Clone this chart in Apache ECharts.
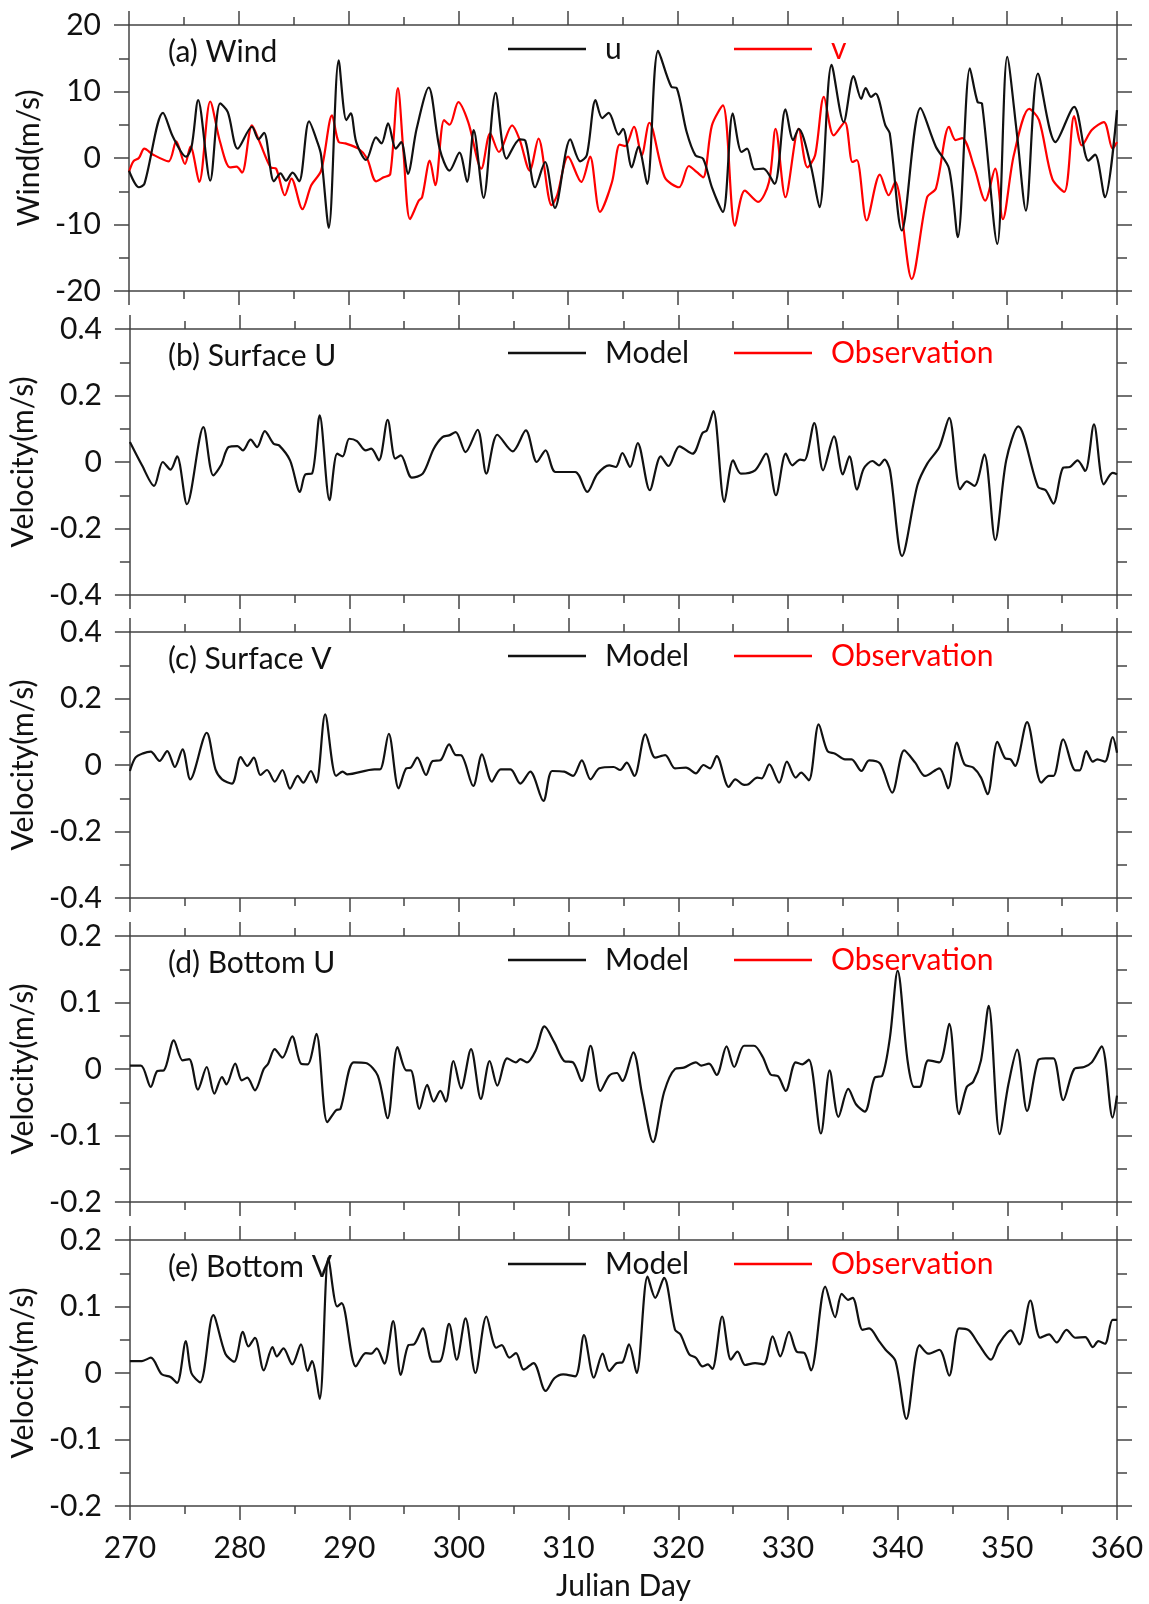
<!DOCTYPE html>
<html>
<head>
<meta charset="utf-8">
<script src="https://cdn.jsdelivr.net/npm/echarts@6/dist/echarts.min.js"></script>
<style>
  html, body { margin: 0; padding: 0; background: #fff; }
  #chart { width: 1149px; height: 1604px; }
</style>
</head>
<body>
<div id="chart"></div>
<script>
// ---- data: [julian day, value] ----
const windU = [[270,-1.9],[270.9,-4.4],[271.4,-3.9],[273.1,6.8],[274.0,3.2],[275.2,0.2],[275.7,1.7],[276.3,8.7],[277.4,-3.4],[278.3,8.2],[279.0,6.9],[279.9,1.4],[281.2,4.7],[281.8,2.8],[282.3,3.8],[283.2,-3.5],[283.8,-2.3],[284.3,-3.4],[284.9,-2.2],[285.5,-3.5],[286.4,5.5],[287.2,2.2],[287.5,0.4],[288.2,-10.5],[289.1,14.7],[289.8,5.7],[290.2,6.7],[290.7,2.4],[291.6,-0.3],[292.5,3.1],[293.0,2.2],[293.6,5.2],[294.3,1.4],[294.8,2.4],[295.4,-2.4],[296.2,4.4],[297.3,10.6],[298.3,1.4],[299.2,-1.9],[300.1,0.8],[300.8,-3.6],[301.4,4.2],[302.3,-6.0],[303.4,9.8],[304.4,-0.1],[305.6,2.8],[306.1,2.6],[307.0,-4.4],[307.9,-0.6],[308.8,-7.5],[310.2,2.8],[311.1,-0.5],[311.7,0.4],[312.5,8.7],[313.1,6.0],[313.7,6.8],[314.6,3.5],[315.0,4.4],[315.8,-1.4],[316.4,1.7],[317.2,-3.9],[318.2,16.1],[319.4,10.7],[319.9,10.5],[320.8,3.9],[321.6,0.4],[322.3,-0.1],[323.1,-4.4],[324.1,-8.1],[325.0,6.7],[325.8,0.9],[326.3,1.4],[327.0,-1.7],[327.8,-1.6],[328.8,-3.9],[329.8,7.3],[330.5,2.7],[331.0,4.4],[332.1,-1.1],[332.9,-7.4],[334.0,14.0],[335.1,5.4],[336.0,12.3],[336.7,8.9],[337.1,10.5],[337.6,9.2],[338.0,9.7],[338.9,4.9],[339.3,3.7],[340.4,-10.9],[342.1,7.5],[343.5,1.7],[344.7,-1.6],[345.5,-11.9],[346.6,13.5],[347.3,8.4],[347.7,8.2],[349.1,-12.9],[350.0,15.2],[350.9,3.4],[351.7,-7.9],[352.8,12.7],[354.4,2.4],[356.1,7.7],[357.4,-0.4],[358.0,0.5],[358.9,-5.9],[360.0,7.2]];

const windV = [[270,-2.1],[270.4,-0.5],[270.9,0],[271.4,1.4],[272.2,0.5],[273.6,-0.5],[274.3,2.5],[275.1,-0.9],[275.6,1.7],[276.4,-3.6],[277.4,8.5],[278.3,2.4],[279.2,-1.4],[279.8,-1.3],[280.3,-2.2],[281.2,4.9],[281.9,2.4],[282.9,-1.4],[283.4,-1.6],[284.2,-5.6],[284.8,-3.1],[285.8,-7.7],[286.6,-4.1],[287.5,-1.9],[288.5,6.4],[289.1,2.4],[289.7,2.2],[290.9,1.4],[291.7,-0.1],[292.5,-3.5],[293.2,-2.9],[293.8,-2.4],[294.5,10.5],[295.0,0.9],[295.6,-9.2],[296.4,-6.4],[296.7,-5.9],[297.4,-0.4],[297.9,-4.1],[298.7,5.7],[299.2,5.0],[300.0,8.4],[300.9,5.4],[302.1,-1.6],[302.9,3.7],[303.7,0.9],[304.9,4.9],[305.6,2.7],[306.5,-1.9],[307.3,2.9],[308.5,-7.1],[309.0,-5.6],[310.0,0.2],[311.2,-3.6],[312.0,0.2],[312.9,-8.1],[314.0,-3.6],[314.7,2.0],[315.2,1.8],[316.0,4.7],[316.7,0.4],[317.4,5.3],[318.8,-2.9],[320.1,-4.4],[321.0,-1.2],[321.7,-2.1],[322.3,-2.9],[323.1,4.9],[324.1,7.9],[325.2,-10.2],[326.1,-4.9],[327.3,-6.6],[328.3,-3.6],[328.9,4.4],[329.8,-5.9],[331.0,4.4],[331.8,-1.4],[332.5,0.4],[333.3,9.2],[334.2,3.4],[335.2,5.4],[335.9,-0.6],[336.3,-0.3],[337.2,-9.4],[338.4,-2.5],[339.2,-5.6],[339.8,-3.6],[341.3,-18.2],[342.7,-5.9],[343.5,-4.6],[344.7,4.7],[345.3,2.7],[345.9,3.0],[347.0,-1.4],[348.0,-6.4],[348.9,-1.6],[349.6,-9.2],[350.6,0.4],[352.0,7.4],[352.9,5.7],[354.1,-3.1],[355.2,-5.1],[356.1,6.3],[356.8,1.9],[357.7,4.2],[358.8,5.4],[359.6,1.4],[360.0,2.4]];

const surfaceU = [[270,0.060],[271.1,-0.010],[272.2,-0.072],[273.0,0.0],[273.7,-0.023],[274.3,0.017],[275.2,-0.127],[276.7,0.105],[277.6,-0.040],[278.3,-0.010],[279.0,0.045],[279.8,0.048],[280.3,0.035],[281.0,0.067],[281.6,0.045],[282.3,0.093],[283.1,0.055],[283.6,0.050],[284.6,0.005],[285.5,-0.090],[286.0,-0.037],[286.6,-0.035],[287.3,0.140],[288.2,-0.115],[288.9,0.025],[289.4,0.017],[290.0,0.070],[290.7,0.063],[291.5,0.035],[292.0,0.040],[292.7,0.005],[293.5,0.127],[294.2,0.010],[294.7,0.020],[295.7,-0.047],[296.7,-0.035],[297.7,0.040],[298.5,0.075],[299.1,0.080],[299.7,0.090],[300.6,0.030],[301.7,0.097],[302.5,-0.035],[303.5,0.082],[304.9,0.032],[306.1,0.095],[307.1,0.0],[307.9,0.035],[308.8,-0.030],[310.6,-0.030],[311.7,-0.090],[312.6,-0.037],[313.7,-0.010],[314.3,-0.015],[314.9,0.027],[315.6,-0.015],[316.3,0.057],[317.4,-0.085],[318.4,0.017],[319.1,-0.012],[320.1,0.047],[321.3,0.025],[322.2,0.087],[322.6,0.095],[323.2,0.153],[324.2,-0.120],[325.0,0.005],[325.7,-0.035],[327.0,-0.025],[328.0,0.025],[328.9,-0.100],[329.8,0.025],[330.4,-0.010],[331.1,0.007],[331.5,0.005],[332.4,0.117],[333.2,-0.025],[334.2,0.077],[335.0,-0.037],[335.6,0.017],[336.3,-0.083],[336.9,-0.020],[337.7,0.003],[338.3,-0.010],[338.8,0.007],[339.3,-0.025],[340.4,-0.283],[341.8,-0.070],[342.7,-0.005],[343.8,0.045],[344.7,0.133],[345.7,-0.082],[346.3,-0.058],[347.0,-0.072],[347.9,0.023],[348.9,-0.235],[349.9,0.005],[351.0,0.107],[352.8,-0.075],[353.5,-0.085],[354.2,-0.125],[355.1,-0.017],[355.7,-0.015],[356.4,0.005],[357.1,-0.027],[357.9,0.113],[358.8,-0.067],[359.6,-0.033],[360,-0.037]];

const surfaceV = [[270,-0.018],[270.5,0.022],[271.2,0.035],[271.9,0.040],[272.7,0.012],[273.4,0.042],[274.1,-0.006],[274.8,0.047],[275.5,-0.043],[277.0,0.097],[277.8,-0.013],[278.4,-0.043],[279.3,-0.056],[280.1,0.024],[280.7,-0.003],[281.3,0.022],[281.9,-0.030],[282.5,-0.015],[283.2,-0.050],[283.9,-0.015],[284.6,-0.071],[285.3,-0.033],[285.8,-0.053],[286.5,-0.018],[287.0,-0.053],[287.8,0.152],[288.8,-0.033],[289.4,-0.020],[289.8,-0.028],[292.3,-0.013],[292.8,-0.013],[293.6,0.094],[294.5,-0.070],[295.2,-0.010],[295.6,-0.008],[296.2,0.022],[297.0,-0.030],[297.6,0.012],[298.3,0.014],[299.1,0.062],[299.7,0.030],[300.2,0.029],[301.3,-0.063],[302.1,0.032],[303.0,-0.050],[303.8,-0.013],[304.7,-0.013],[305.6,-0.056],[306.5,-0.020],[307.7,-0.108],[308.5,-0.018],[309.6,-0.020],[310.4,-0.033],[311.2,0.014],[312.0,-0.043],[312.8,-0.010],[314.1,-0.006],[314.7,-0.015],[315.3,0.007],[316.0,-0.033],[317.0,0.092],[317.9,0.022],[318.8,0.030],[319.7,-0.010],[320.7,-0.008],[321.6,-0.025],[322.3,0.0],[322.9,-0.010],[323.5,0.027],[324.6,-0.066],[325.2,-0.043],[326.0,-0.060],[326.4,-0.058],[327.2,-0.038],[327.6,-0.040],[328.3,0.002],[329.2,-0.053],[329.9,0.010],[330.7,-0.038],[331.2,-0.023],[331.9,-0.046],[332.8,0.122],[333.6,0.042],[334.3,0.034],[335.2,0.017],[335.8,0.017],[336.7,-0.018],[337.4,0.014],[338.4,0.004],[339.5,-0.083],[340.6,0.044],[341.6,0.007],[342.5,-0.033],[343.8,-0.010],[344.6,-0.070],[345.4,0.067],[346.1,0.002],[346.9,-0.008],[347.6,-0.038],[348.2,-0.088],[349.1,0.070],[349.8,0.020],[350.3,0.017],[350.7,-0.003],[351.8,0.129],[353.1,-0.053],[353.8,-0.033],[354.2,-0.033],[355.1,0.077],[356.2,-0.016],[356.6,-0.016],[357.2,0.042],[357.8,0.010],[358.2,0.017],[358.9,0.010],[359.6,0.084],[360,0.037]];

const bottomU = [[270,0.005],[271.0,0.005],[271.9,-0.027],[272.5,-0.003],[273.1,-0.002],[274.0,0.043],[274.8,0.013],[275.4,0.015],[276.2,-0.031],[277.0,0.003],[277.7,-0.037],[278.4,-0.012],[278.8,-0.023],[279.6,0.008],[280.2,-0.017],[280.7,-0.013],[281.4,-0.032],[282.2,0.0],[282.6,0.008],[283.2,0.030],[283.9,0.017],[284.8,0.049],[285.6,0.008],[286.2,0.007],[287.0,0.053],[288.0,-0.080],[288.8,-0.062],[289.2,-0.060],[290.4,0.010],[291.5,0.009],[292.6,-0.010],[293.5,-0.074],[294.4,0.033],[295.2,-0.002],[295.6,-0.002],[296.4,-0.060],[297.1,-0.024],[297.7,-0.049],[298.3,-0.033],[298.8,-0.049],[299.5,0.012],[300.2,-0.029],[301.1,0.030],[302.0,-0.045],[302.8,0.012],[303.5,-0.025],[304.4,0.016],[305.2,0.010],[305.6,0.015],[306.2,0.010],[307.0,0.028],[307.8,0.064],[308.7,0.040],[309.6,0.012],[310.4,0.010],[311.2,-0.018],[312.0,0.035],[312.9,-0.033],[313.7,-0.010],[314.4,-0.006],[314.9,-0.018],[315.9,0.025],[316.7,-0.038],[317.7,-0.110],[318.7,-0.035],[319.7,0.0],[320.5,0.002],[321.6,0.010],[322.1,0.005],[322.8,0.008],[323.5,-0.009],[324.4,0.034],[325.1,0.003],[326.0,0.035],[326.9,0.035],[327.7,0.018],[328.4,-0.008],[329.1,-0.011],[329.8,-0.033],[330.7,0.010],[331.3,0.007],[331.9,0.014],[333.0,-0.097],[333.8,-0.002],[334.6,-0.072],[335.5,-0.030],[336.2,-0.053],[337.0,-0.064],[337.9,-0.013],[338.6,-0.010],[339.3,0.048],[340.0,0.148],[340.9,0.013],[341.5,-0.027],[342.0,-0.027],[342.8,0.013],[343.8,0.010],[344.7,0.068],[345.6,-0.068],[346.3,-0.027],[346.9,-0.019],[347.6,0.013],[348.3,0.095],[349.3,-0.098],[350.1,-0.023],[350.9,0.029],[351.8,-0.063],[352.8,0.013],[353.5,0.016],[354.2,0.016],[355.1,-0.047],[356.1,0.0],[357.0,0.003],[357.7,0.010],[358.6,0.034],[359.6,-0.073],[360,-0.040]];

const bottomV = [[270,0.018],[271.1,0.018],[271.9,0.023],[272.9,-0.002],[273.7,-0.006],[274.3,-0.015],[275.1,0.048],[275.6,0.0],[276.4,-0.014],[277.6,0.087],[278.7,0.029],[279.5,0.017],[280.3,0.062],[280.8,0.040],[281.4,0.053],[282.2,0.004],[283.0,0.039],[283.4,0.025],[284.0,0.037],[284.8,0.013],[285.6,0.043],[286.2,0.003],[286.6,0.018],[287.3,-0.039],[288.1,0.173],[288.9,0.100],[289.3,0.105],[290.6,0.010],[291.5,0.030],[292.0,0.029],[292.5,0.037],[293.2,0.014],[294.0,0.078],[294.7,-0.003],[295.4,0.042],[295.9,0.043],[296.7,0.067],[297.6,0.017],[298.3,0.018],[299.1,0.074],[299.8,0.020],[300.6,0.082],[301.5,0.0],[302.5,0.085],[303.4,0.038],[303.9,0.042],[304.6,0.023],[305.2,0.030],[305.9,0.005],[306.8,0.015],[307.9,-0.027],[308.7,-0.008],[309.5,-0.002],[310.6,-0.005],[311.4,0.057],[312.3,-0.007],[313.1,0.029],[313.7,0.003],[314.4,0.015],[314.9,0.016],[315.5,0.043],[316.2,0.0],[317.2,0.145],[317.9,0.113],[318.7,0.143],[319.7,0.065],[320.2,0.058],[321.0,0.028],[321.6,0.023],[322.2,0.010],[322.7,0.013],[323.1,0.006],[324.0,0.085],[324.8,0.020],[325.4,0.032],[326.1,0.012],[327.0,0.015],[327.8,0.013],[328.6,0.055],[329.3,0.025],[330.1,0.062],[330.8,0.032],[331.5,0.030],[332.1,0.004],[333.4,0.130],[334.3,0.084],[334.9,0.119],[335.5,0.110],[335.9,0.113],[336.8,0.065],[337.4,0.067],[338.3,0.048],[338.9,0.035],[339.8,0.018],[340.8,-0.069],[342.0,0.042],[342.8,0.029],[343.8,0.035],[344.7,-0.004],[345.6,0.067],[346.5,0.064],[347.4,0.043],[348.5,0.020],[349.2,0.043],[350.3,0.064],[351.1,0.043],[352.1,0.109],[353.0,0.053],[353.8,0.058],[354.5,0.046],[355.4,0.065],[356.2,0.053],[357.1,0.054],[357.8,0.039],[358.3,0.048],[358.9,0.044],[359.6,0.080],[360,0.080]];

// ---- panel text ----
const panelTitles = ['(a) Wind', '(b) Surface U', '(c) Surface V', '(d) Bottom U', '(e) Bottom V'];
const yAxisNames = ['Wind(m/s)', 'Velocity(m/s)', 'Velocity(m/s)', 'Velocity(m/s)', 'Velocity(m/s)'];
const legendNames = [['u', 'v'], ['Model', 'Observation'], ['Model', 'Observation'], ['Model', 'Observation'], ['Model', 'Observation']];
const yMin = [-20, -0.4, -0.4, -0.2, -0.2];
const yMax = [20, 0.4, 0.4, 0.2, 0.2];
const yStep = [10, 0.2, 0.2, 0.1, 0.1];
const dayMin = 270, dayMax = 360, dayStep = 10;
const xAxisName = 'Julian Day';

// series per panel: [black line, red line]
const panelSeries = [[windU, windV], [surfaceU, []], [surfaceV, []], [bottomU, []], [bottomV, []]];

// ---- layout ----
const FONT = 'Lato';
const BLACK = '#111111';
const RED = '#ff0000';
const AXIS_COLOR = '#444444';
const gridLeft = 129, gridWidth = 988, gridHeight = 266;
const gridTops = [25, 329, 632, 936, 1240];

const axisLineStyle = { color: AXIS_COLOR, width: 1.5 };

const grids = [], xAxes = [], yAxes = [], series = [], titles = [], legends = [];

gridTops.forEach((top, i) => {
  grids.push({ left: gridLeft, top: top, width: gridWidth, height: gridHeight, containLabel: false });

  const isLast = i === gridTops.length - 1;
  const xBase = {
    gridIndex: i, type: 'value', min: dayMin, max: dayMax, interval: dayStep,
    axisLine: { show: true, onZero: false, lineStyle: axisLineStyle },
    axisTick: { show: true, inside: false, length: 14, lineStyle: axisLineStyle },
    minorTick: { show: true, splitNumber: 2, length: 8, lineStyle: axisLineStyle },
    splitLine: { show: false }
  };
  xAxes.push(Object.assign({}, xBase, {
    position: 'bottom',
    axisLabel: { show: isLast, margin: 27, fontSize: 30, fontFamily: FONT, color: BLACK },
    name: isLast ? xAxisName : '',
    nameLocation: 'middle', nameGap: 65,
    nameTextStyle: { fontSize: 30, fontFamily: FONT, color: BLACK }
  }));
  xAxes.push(Object.assign({}, xBase, { position: 'top', axisLabel: { show: false } }));

  const yBase = {
    gridIndex: i, type: 'value', min: yMin[i], max: yMax[i], interval: yStep[i],
    axisLine: { show: true, onZero: false, lineStyle: axisLineStyle },
    axisTick: { show: true, inside: false, length: 15, lineStyle: axisLineStyle },
    minorTick: { show: true, splitNumber: 2, length: 10, lineStyle: axisLineStyle },
    splitLine: { show: false }
  };
  yAxes.push(Object.assign({}, yBase, {
    position: 'left',
    axisLabel: { show: true, margin: 28, fontSize: 30, fontFamily: FONT, color: BLACK },
    name: yAxisNames[i], nameLocation: 'middle', nameGap: 83,
    nameTextStyle: { fontSize: 30, fontFamily: FONT, color: BLACK }
  }));
  yAxes.push(Object.assign({}, yBase, { position: 'right', axisLabel: { show: false } }));

  const [blackData, redData] = panelSeries[i];
  const [blackName, redName] = legendNames[i];
  series.push({
    name: blackName, type: 'line', xAxisIndex: i * 2, yAxisIndex: i * 2,
    data: blackData, showSymbol: false, smooth: 0.3,
    lineStyle: { color: BLACK, width: 2.2 }, itemStyle: { color: BLACK }, z: 3
  });
  series.push({
    name: redName, type: 'line', xAxisIndex: i * 2, yAxisIndex: i * 2,
    data: redData, showSymbol: false, smooth: 0.3,
    lineStyle: { color: RED, width: 2.2 }, itemStyle: { color: RED }, z: 2
  });

  titles.push({
    text: panelTitles[i], left: 163, top: top + 7,
    textStyle: { fontSize: 30, fontWeight: 'normal', fontFamily: FONT, color: BLACK }
  });

  const legendCommon = {
    top: top + 4, icon: 'rect', itemWidth: 78, itemHeight: 2.5, selectedMode: false,
    textStyle: { fontSize: 30, fontFamily: FONT, padding: [8, 0, 0, 14] }
  };
  legends.push(Object.assign({}, legendCommon, {
    left: 503, data: [{ name: blackName, textStyle: { color: BLACK } }]
  }));
  legends.push(Object.assign({}, legendCommon, {
    left: 729, data: [{ name: redName, textStyle: { color: RED } }]
  }));
});

const chart = echarts.init(document.getElementById('chart'), null, { renderer: 'canvas' });
chart.setOption({
  backgroundColor: '#ffffff',
  animation: false,
  title: titles,
  legend: legends,
  grid: grids,
  xAxis: xAxes,
  yAxis: yAxes,
  series: series
});
</script>
</body>
</html>
